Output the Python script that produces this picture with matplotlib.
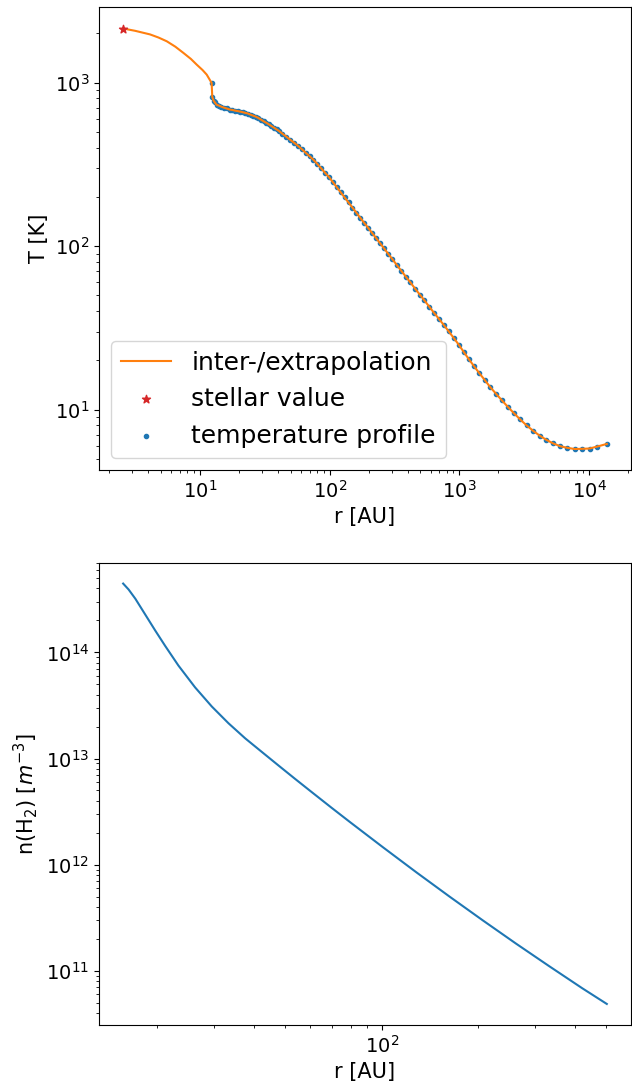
import matplotlib
matplotlib.use("Agg")
import matplotlib.pyplot as plt
import numpy as np

# stellar value (log10 r [AU], log10 T [K])
star_logr = 0.408
star_logT = 3.331

# extrapolation from the star to the first profile point
ext_logr = [0.408, 0.5, 0.615, 0.68, 0.744, 0.81, 0.872, 0.93, 0.975, 1.02, 1.052]
ext_logT = [3.331, 3.317, 3.295, 3.276, 3.253, 3.220, 3.182, 3.145, 3.110, 3.077, 3.049]

# temperature profile
prof_logr = [1.090, 1.095, 1.105, 1.115, 1.128, 1.145, 1.165, 1.185, 1.205, 1.231,
             1.25, 1.27, 1.29, 1.31, 1.33, 1.35, 1.37, 1.39, 1.41, 1.43,
             1.45, 1.47, 1.49, 1.51, 1.53, 1.55, 1.57, 1.59, 1.61,
             1.635, 1.665, 1.695, 1.725, 1.755, 1.785, 1.815, 1.845, 1.875, 1.905,
             1.935, 1.965, 1.995, 2.025, 2.055, 2.085, 2.115, 2.145, 2.175, 2.205,
             2.235, 2.265, 2.295, 2.325, 2.355, 2.385, 2.418, 2.451, 2.484,
             2.517, 2.552, 2.587, 2.622, 2.658, 2.694, 2.730, 2.767, 2.804, 2.841,
             2.879, 2.917, 2.955, 2.994, 3.033, 3.072, 3.112, 3.153, 3.195, 3.238,
             3.282, 3.327, 3.373, 3.420, 3.468, 3.517, 3.567, 3.618, 3.670, 3.723,
             3.777, 3.832, 3.888, 3.945, 4.003, 4.062, 4.136]
prof_logT = [2.998, 2.912, 2.890, 2.879, 2.865, 2.860, 2.853, 2.847, 2.842, 2.835,
             2.833, 2.829, 2.826, 2.823, 2.819, 2.815, 2.811, 2.804, 2.798, 2.792,
             2.784, 2.774, 2.764, 2.755, 2.745, 2.735, 2.725, 2.714, 2.704,
             2.688, 2.670, 2.651, 2.633, 2.614, 2.593, 2.571, 2.550, 2.528, 2.502,
             2.475, 2.448, 2.422, 2.391, 2.360, 2.329, 2.298, 2.267, 2.236, 2.205,
             2.174, 2.143, 2.113, 2.082, 2.052, 2.021, 1.987, 1.953, 1.919,
             1.885, 1.849, 1.813, 1.778, 1.740, 1.704, 1.668, 1.630, 1.592, 1.556,
             1.518, 1.479, 1.439, 1.398, 1.353, 1.309, 1.266, 1.223, 1.181, 1.137,
             1.097, 1.057, 1.017, 0.978, 0.940, 0.904, 0.871, 0.841, 0.815, 0.793,
             0.776, 0.766, 0.759, 0.760, 0.762, 0.774, 0.790]

# H2 density profile
dens_logr = [1.195, 1.212, 1.233, 1.264, 1.295, 1.326, 1.367, 1.419, 1.471, 1.523,
             1.575, 1.626, 1.678, 1.730, 1.782, 1.844, 1.901, 2.004, 2.108, 2.211,
             2.315, 2.418, 2.522, 2.625, 2.701]
dens_logn = [14.648, 14.592, 14.505, 14.355, 14.205, 14.060, 13.876, 13.670, 13.490, 13.332,
             13.190, 13.064, 12.936, 12.809, 12.684, 12.536, 12.402, 12.164, 11.928, 11.700,
             11.475, 11.257, 11.043, 10.835, 10.688]

r_star = 10 ** star_logr
T_star = 10 ** star_logT
r_prof = 10 ** np.array(prof_logr)
T_prof = 10 ** np.array(prof_logT)
r_line = 10 ** np.concatenate([ext_logr, prof_logr])
T_line = 10 ** np.concatenate([ext_logT, prof_logT])
r_dens = 10 ** np.array(dens_logr)
n_dens = 10 ** np.array(dens_logn)

fig = plt.figure(figsize=(6.32, 10.86), dpi=100)
ax1 = fig.add_axes([0.1566, 0.5672, 0.8418, 0.4259])
ax2 = fig.add_axes([0.1566, 0.0562, 0.8418, 0.4258])

# line first so it comes first in the legend, zorder puts it over the dots
ax1.plot(r_line, T_line, color='C1', label='inter-/extrapolation', zorder=3)
ax1.scatter(r_star, T_star, marker='*', color='C3', label='stellar value', zorder=4)
ax1.scatter(r_prof, T_prof, marker='.', color='C0', label='temperature profile')
ax1.set_xscale('log')
ax1.set_yscale('log')
ax1.set_xlabel('r [AU]', fontsize=15)
ax1.set_ylabel('T [K]', fontsize=15)
ax1.tick_params(labelsize=14)
ax1.legend(loc='lower left', fontsize=18)

ax2.plot(r_dens, n_dens, color='C0')
ax2.set_xscale('log')
ax2.set_yscale('log')
ax2.set_xlabel('r [AU]', fontsize=15)
ax2.set_ylabel(r'n(H$_2$) [$m^{-3}$]', fontsize=15)
ax2.tick_params(labelsize=14)

fig.savefig('out.png', dpi=100)
